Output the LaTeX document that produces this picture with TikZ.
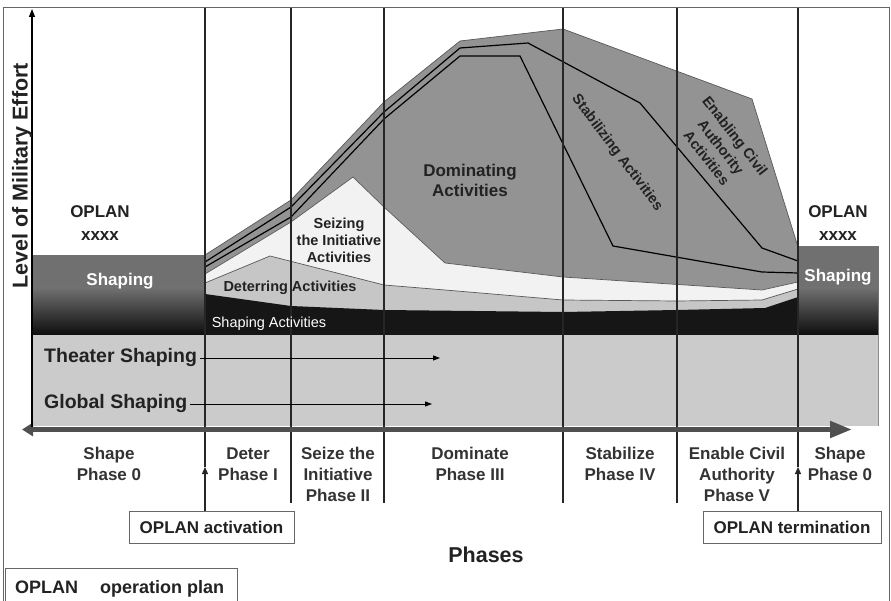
\documentclass[tikz,border=0pt]{standalone}
\usepackage{fontspec}
\setmainfont{Liberation Sans}
\usetikzlibrary{arrows.meta}
\definecolor{areagray}{HTML}{939393}
\definecolor{seizewhite}{HTML}{F2F2F2}
\definecolor{detergray}{HTML}{C6C6C6}
\definecolor{bandblack}{HTML}{161616}
\definecolor{basegray}{HTML}{CBCBCB}
\definecolor{sgray}{HTML}{707070}
\definecolor{axisgray}{HTML}{505050}
\definecolor{txt}{HTML}{222222}
\definecolor{phtxt}{HTML}{333333}
\newcommand\fsz[2]{\fontsize{#1}{#2}\selectfont}
\begin{document}
\begin{tikzpicture}[x=1pt,y=-1pt,
  vline/.style={line width=1.2pt, black!85},
  bandline/.style={line width=1.2pt, black},
  edgeline/.style={line width=0.7pt, black!65},
  lbl/.style={font=\bfseries\fsz{14.5}{17}, text=txt, align=center, inner sep=0pt},
  biglbl/.style={font=\bfseries\fsz{17}{20}, text=txt, align=center, inner sep=0pt},
  phase/.style={font=\bfseries\fsz{17}{21}, text=phtxt, align=center, inner sep=0pt},
  shapelbl/.style={font=\bfseries\fsz{17}{20}, text=white, inner sep=0pt},
  oplanlbl/.style={font=\bfseries\fsz{17}{23}, text=txt, align=center, inner sep=0pt},
  boxlbl/.style={draw=black!60, line width=0.8pt, fill=white, font=\bfseries\fsz{17}{20}, text=txt, minimum height=32pt, inner sep=0pt},
  shlbl/.style={font=\bfseries\fsz{19.5}{22}, text=txt, inner sep=3pt},
  smallarrow/.style={line width=0.9pt, -{Triangle[length=7pt,width=5pt]}}
]
\useasboundingbox (0,0) rectangle (891,601);
\fill[white] (0,0) rectangle (891,601);

% frame
\draw[black!60, line width=0.9pt] (3,601) -- (3,7.5) -- (889.5,7.5) -- (889.5,601);

% base gray region
\fill[basegray] (32,335) rectangle (878,426);
\draw[black!45, line width=0.6pt] (878,335) -- (878,426);

% stacked areas
\fill[areagray] (205,335) -- (205,255) -- (291,200) -- (384,102) -- (460,41) -- (563,29) -- (752,99) -- (798,247) -- (798,335) -- cycle;
\draw[edgeline] (205,255) -- (291,200) -- (384,102) -- (460,41) -- (563,29) -- (752,99) -- (798,247);
\draw[bandline] (205,262) -- (291,207) -- (384,112) -- (460,48) -- (528,43) -- (640,103) -- (762,248) -- (798,261);
\draw[bandline] (205,267) -- (291,217) -- (384,119) -- (460,56) -- (520,56) -- (613,246) -- (762,272) -- (798,273);
\fill[seizewhite] (205,335) -- (205,274) -- (291,222) -- (353,177) -- (384,207) -- (445,263) -- (563,277) -- (762,290) -- (798,282) -- (798,335) -- cycle;
\draw[edgeline] (205,274) -- (291,222) -- (353,177) -- (384,207) -- (445,263) -- (563,277) -- (762,290) -- (798,282);
\fill[detergray] (205,335) -- (205,283) -- (270,256) -- (384,285) -- (445,290) -- (563,300) -- (677,301) -- (762,300) -- (798,289) -- (798,335) -- cycle;
\draw[edgeline] (205,283) -- (270,256) -- (384,285) -- (445,290) -- (563,300) -- (677,301) -- (762,300) -- (798,289);
\fill[bandblack] (205,335) -- (205,294) -- (291,306) -- (384,310) -- (563,312) -- (677,310) -- (765,308) -- (798,297) -- (798,335) -- cycle;

% shaping boxes
\fill[sgray] (32,255) rectangle (205,288.5);
\shade[top color=sgray, bottom color=black!95] (32,288) rectangle (205,335);
\fill[sgray] (798,246) rectangle (878,288.5);
\shade[top color=sgray, bottom color=black!95] (798,288) rectangle (878,335);
\draw[black!55, line width=0.7pt] (798,335) -- (798,246) -- (878,246) -- (878,335);

% boxes at bottom
\node[boxlbl, minimum width=165pt] (act) at (211.5,527) {OPLAN activation};
\node[boxlbl, minimum width=178pt] (term) at (792,527) {OPLAN termination};

% phase boundary lines
\coordinate (t1) at (205,8);
\coordinate (t2) at (291,8);
\coordinate (t3) at (384,8);
\coordinate (t4) at (563,8);
\coordinate (t5) at (677,8);
\coordinate (t6) at (798,8);
\coordinate (b2) at (291,503);
\coordinate (b3) at (384,503);
\coordinate (b4) at (563,503);
\coordinate (b5) at (677,503);
\coordinate (m1) at (205,467);
\coordinate (m6) at (798,467);
\draw[vline] (t1) -- (m1);
\draw[vline] (t2) -- (b2);
\draw[vline] (t3) -- (b3);
\draw[vline] (t4) -- (b4);
\draw[vline] (t5) -- (b5);
\draw[vline] (t6) -- (m6);
\draw[vline, -{Triangle[length=7pt,width=6pt]}] (act.north -| m1) -- (m1);
\draw[vline, -{Triangle[length=7pt,width=6pt]}] (term.north -| m6) -- (m6);

% axes
\coordinate (axL) at (22,429.5);
\coordinate (axR) at (852,429.5);
\draw[axisgray, line width=5pt, {Triangle[length=11pt,width=13pt]}-{Triangle[length=22pt,width=16pt]}] (axL) -- (axR);
\coordinate (yb) at (32,427);
\coordinate (yt) at (32,9);
\draw[line width=1.4pt, black, -{Triangle[length=8pt,width=6pt]}] (yb) -- (yt);

% labels in the chart
\node[font=\bfseries\fsz{21.5}{24}, text=txt, rotate=90] (ylab) at (22,176) {Level of Military Effort};
\node[oplanlbl] (opL) at (100,223.5) {OPLAN\\xxxx};
\node[oplanlbl] (opR) at (838,223.5) {OPLAN\\xxxx};
\node[shapelbl] (shL) at (120,281) {Shaping};
\node[shapelbl] (shR) at (838,277) {Shaping};
\node[biglbl] (dom) at (470,180) {Dominating\\Activities};
\node[lbl] (seize) at (339,240) {Seizing\\the Initiative\\Activities};
\node[lbl] (deter) at (290,288) {Deterring Activities};
\node[font=\fsz{14.5}{17}, text=white, inner sep=0pt] (shact) at (269,324) {Shaping Activities};
\node[lbl, rotate=-53] (stab) at (617,153) {Stabilizing Activities};
\node[lbl, rotate=-52, font=\bfseries\fsz{14.5}{18}] (enab) at (721,147) {Enabling Civil\\Authority\\Activities};

% theater / global shaping
\node[shlbl, anchor=west] (theater) at (41,358) {Theater Shaping};
\node[shlbl, anchor=west] (global) at (41,404) {Global Shaping};
\coordinate (thEnd) at (440,358);
\coordinate (glEnd) at (432,404);
\draw[smallarrow] (theater) -- (thEnd);
\draw[smallarrow] (global) -- (glEnd);

% phase labels
\node[phase] (p0) at (109,464) {Shape\\Phase 0};
\node[phase] (p1) at (248,464) {Deter\\Phase I};
\node[phase] (p2) at (338,474.5) {Seize the\\Initiative\\Phase II};
\node[phase] (p3) at (470,464) {Dominate\\Phase III};
\node[phase] (p4) at (620,464) {Stabilize\\Phase IV};
\node[phase] (p5) at (737,474.5) {Enable Civil\\Authority\\Phase V};
\node[phase] (p6) at (840,464) {Shape\\Phase 0};

% axis title
\node[font=\bfseries\fsz{21.5}{24}, text=txt, inner sep=0pt] (phases) at (486,555) {Phases};

% legend
\draw[black!60, line width=0.9pt] (5,601) -- (5,568.5) -- (237,568.5) -- (237,601);
\node[font=\bfseries\fsz{18}{20}, text=txt, anchor=base west, inner sep=0pt] (lgA) at (15,593) {OPLAN};
\node[font=\bfseries\fsz{18}{20}, text=txt, anchor=base west, inner sep=0pt] (lgB) at (100,593) {operation plan};
\end{tikzpicture}
\end{document}
